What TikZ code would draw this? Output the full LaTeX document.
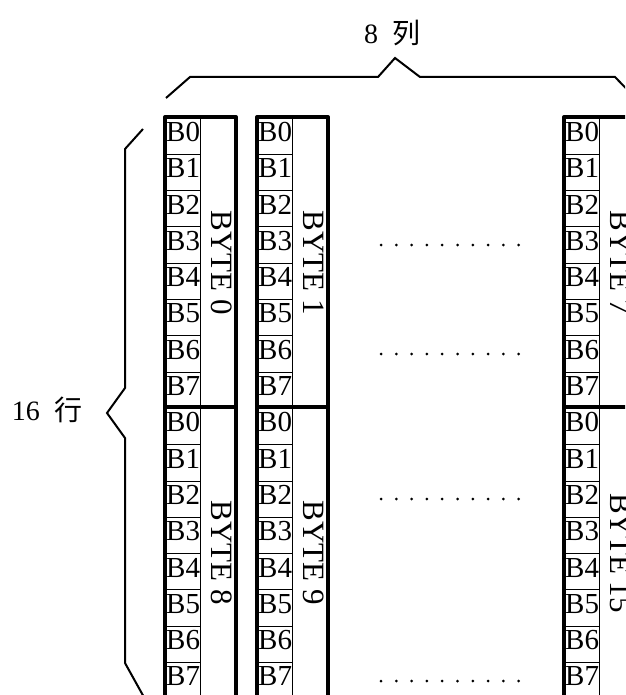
\documentclass[tikz,border=0pt]{standalone}
\usepackage{fontspec}
\setmainfont{Liberation Serif}
\newfontfamily\cjk{Noto Sans CJK SC}
\usetikzlibrary{positioning}

\begin{document}
\begin{tikzpicture}[x=1pt,y=-1pt,
    frame/.style={line width=4pt, line join=round},
    cell/.style={line width=0.9pt},
    bitlabel/.style={anchor=west, inner sep=0pt, font=\fontsize{29}{29}\selectfont},
    bytelabel/.style={rotate=-90, inner sep=0pt, font=\fontsize{31}{31}\selectfont},
    bracket/.style={line width=2pt, line join=miter},
    dimlabel/.style={inner sep=0pt, font=\fontsize{28}{28}\selectfont}]
\useasboundingbox (0,0) rectangle (625,695);
\begin{scope}
\clip (0,0) rectangle (625,695);

% Three byte columns: left x / upper byte / lower byte
\foreach \x/\a/\b in {165/0/8, 257/1/9, 564/7/15} {
    % Bit cells
    \foreach \r in {0,...,15} {
        \pgfmathtruncatemacro{\bit}{mod(\r,8)}
        \draw[cell] (\x,118+36.3*\r) rectangle (\x+35,118+36.3*\r+36.3);
        \node[bitlabel] (bit-\a-\r) at (\x+1,118+36.3*\r+14) {B\bit};
    }

    % Outer frame and split between the two bytes
    \draw[frame] (\x,117) rectangle (\x+71,760);
    \draw[frame] (\x,407) -- (\x+71,407);

    % Byte names
    \node[bytelabel] (byte\a) at (\x+57,263) {BYTE \a};
    \node[bytelabel] (byte\b) at (\x+57,553) {BYTE \b};
}

% Dotted rows between the columns
\foreach \y in {245, 354, 499, 681} {
    \foreach \i in {0,...,9}
        \fill (381+15.3*\i,\y) circle (1.5);
}

% Braces
\draw[bracket] (166,98) -- (190,77) -- (378,77) -- (395,58) -- (420,77) -- (615,77) -- (645,108);
\draw[bracket] (143,129) -- (125,149) -- (125,388) -- (107,413) -- (125,438) -- (125,663) -- (150,708);
\end{scope}

% Dimension labels
\node[dimlabel] (cols) at (392,33) {8\hspace{14pt}{\cjk 列}};
\node[dimlabel] (rows) at (47,410) {16\hspace{14pt}{\cjk 行}};
\end{tikzpicture}
\end{document}
